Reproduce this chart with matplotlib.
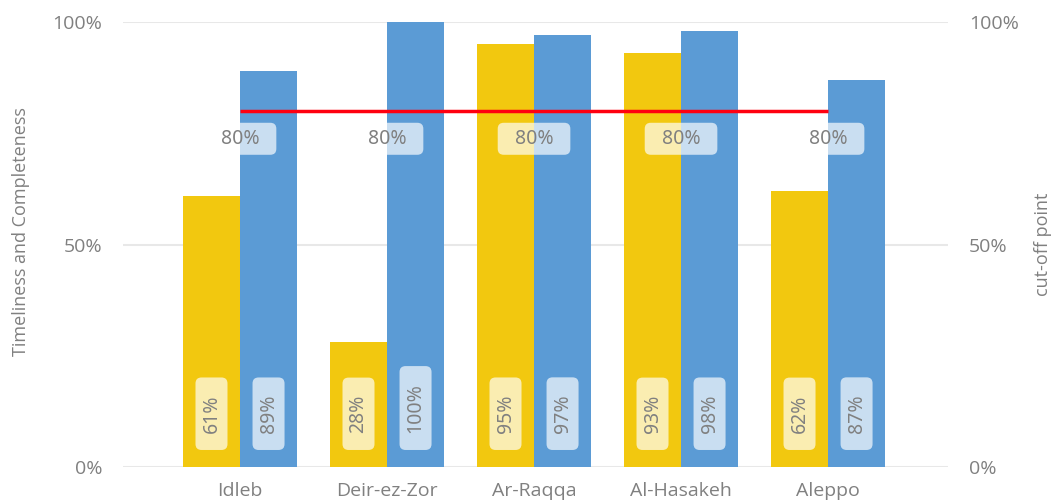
import matplotlib
matplotlib.use("Agg")
import matplotlib.pyplot as plt
from matplotlib.patches import BoxStyle
import numpy as np

categories = ["Idleb", "Deir-ez-Zor", "Ar-Raqqa", "Al-Hasakeh", "Aleppo"]
timeliness = [0.61, 0.28, 0.95, 0.93, 0.62]
completeness = [0.89, 1.00, 0.97, 0.98, 0.87]
cutoff = [0.80, 0.80, 0.80, 0.80, 0.80]
yticks = [0.0, 0.5, 1.0]
ytick_labels = ["0%", "50%", "100%"]

YELLOW = "#F2C80F"
BLUE = "#5B9BD5"
RED = "#FF0010"
GRAY = "#808080"
GRID = "#E8E8E8"
LABEL_FONT = "Noto Sans"


def pill(x0, y0, width, height, mutation_size):
    """Rounded box: 17px padding along the text, fixed 32px across it."""
    cy = y0 + height / 2.0
    h = 32.0
    r = 6.0
    return BoxStyle.Round(pad=0, rounding_size=r / mutation_size)(
        x0 - 17.0, cy - h / 2.0, width + 34.0, h, mutation_size)


LABEL_BOX = dict(boxstyle=pill, fc="white", ec="none", alpha=0.68)

DPI = 100
fig = plt.figure(figsize=(10.54, 5.0), dpi=DPI)
ax = fig.add_axes([123/1054, 33/500, 825/1054, 445/500])
ax2 = ax.twinx()

x = np.arange(len(categories))
w = 0.388
b1 = ax.bar(x - w/2, timeliness, w, color=YELLOW, zorder=2)
b2 = ax.bar(x + w/2, completeness, w, color=BLUE, zorder=2)

ax.set_xlim(-0.796, 4.816)
ax.set_ylim(0, 1)
ax2.set_ylim(0, 1)
ax.set_yticks(yticks)
ax.set_yticklabels(ytick_labels)
ax2.set_yticks(yticks)
ax2.set_yticklabels(ytick_labels)
ax.set_xticks(x)
ax.set_xticklabels(categories)

for a in (ax, ax2):
    for s in a.spines.values():
        s.set_visible(False)
    a.tick_params(axis="both", length=0, labelsize=14, labelcolor=GRAY)
    for lab in a.get_yticklabels() + a.get_xticklabels():
        lab.set_fontfamily("Open Sans")
ax.tick_params(axis="y", pad=15)
ax2.tick_params(axis="y", pad=15)
ax.tick_params(axis="x", pad=11)
ax.yaxis.grid(True, color=GRID, linewidth=1.5, zorder=0)
ax.set_axisbelow(True)

ax.set_ylabel("Timeliness and Completeness", fontsize=13, color=GRAY,
              fontfamily="Open Sans", labelpad=16)
ax.yaxis.label.set_y(0.53)
ax2.set_ylabel("cut-off point", fontsize=13, color=GRAY,
               fontfamily="Open Sans", labelpad=11)

# cut-off line on secondary axis
ax2.plot(x, cutoff, color=RED, linewidth=2.5, solid_capstyle="butt", zorder=3)

for xi, v in zip(x, cutoff):
    ax2.annotate(f"{v*100:.0f}%", (xi, v), xytext=(0, -20),
                 textcoords="offset points", ha="center", va="center",
                 fontsize=14, color=GRAY, fontfamily=LABEL_FONT,
                 bbox=LABEL_BOX, zorder=5)

for rects, vals in ((b1, timeliness), (b2, completeness)):
    for r, v in zip(rects, vals):
        cx = r.get_x() + r.get_width()/2
        ax.annotate(f"{v*100:.0f}%", (cx, 0), xytext=(0, 24.5),
                    textcoords="offset points", ha="center", va="bottom",
                    rotation=90, fontsize=14, color=GRAY,
                    fontfamily=LABEL_FONT, bbox=LABEL_BOX, zorder=5)

fig.savefig("out.png", dpi=DPI)
